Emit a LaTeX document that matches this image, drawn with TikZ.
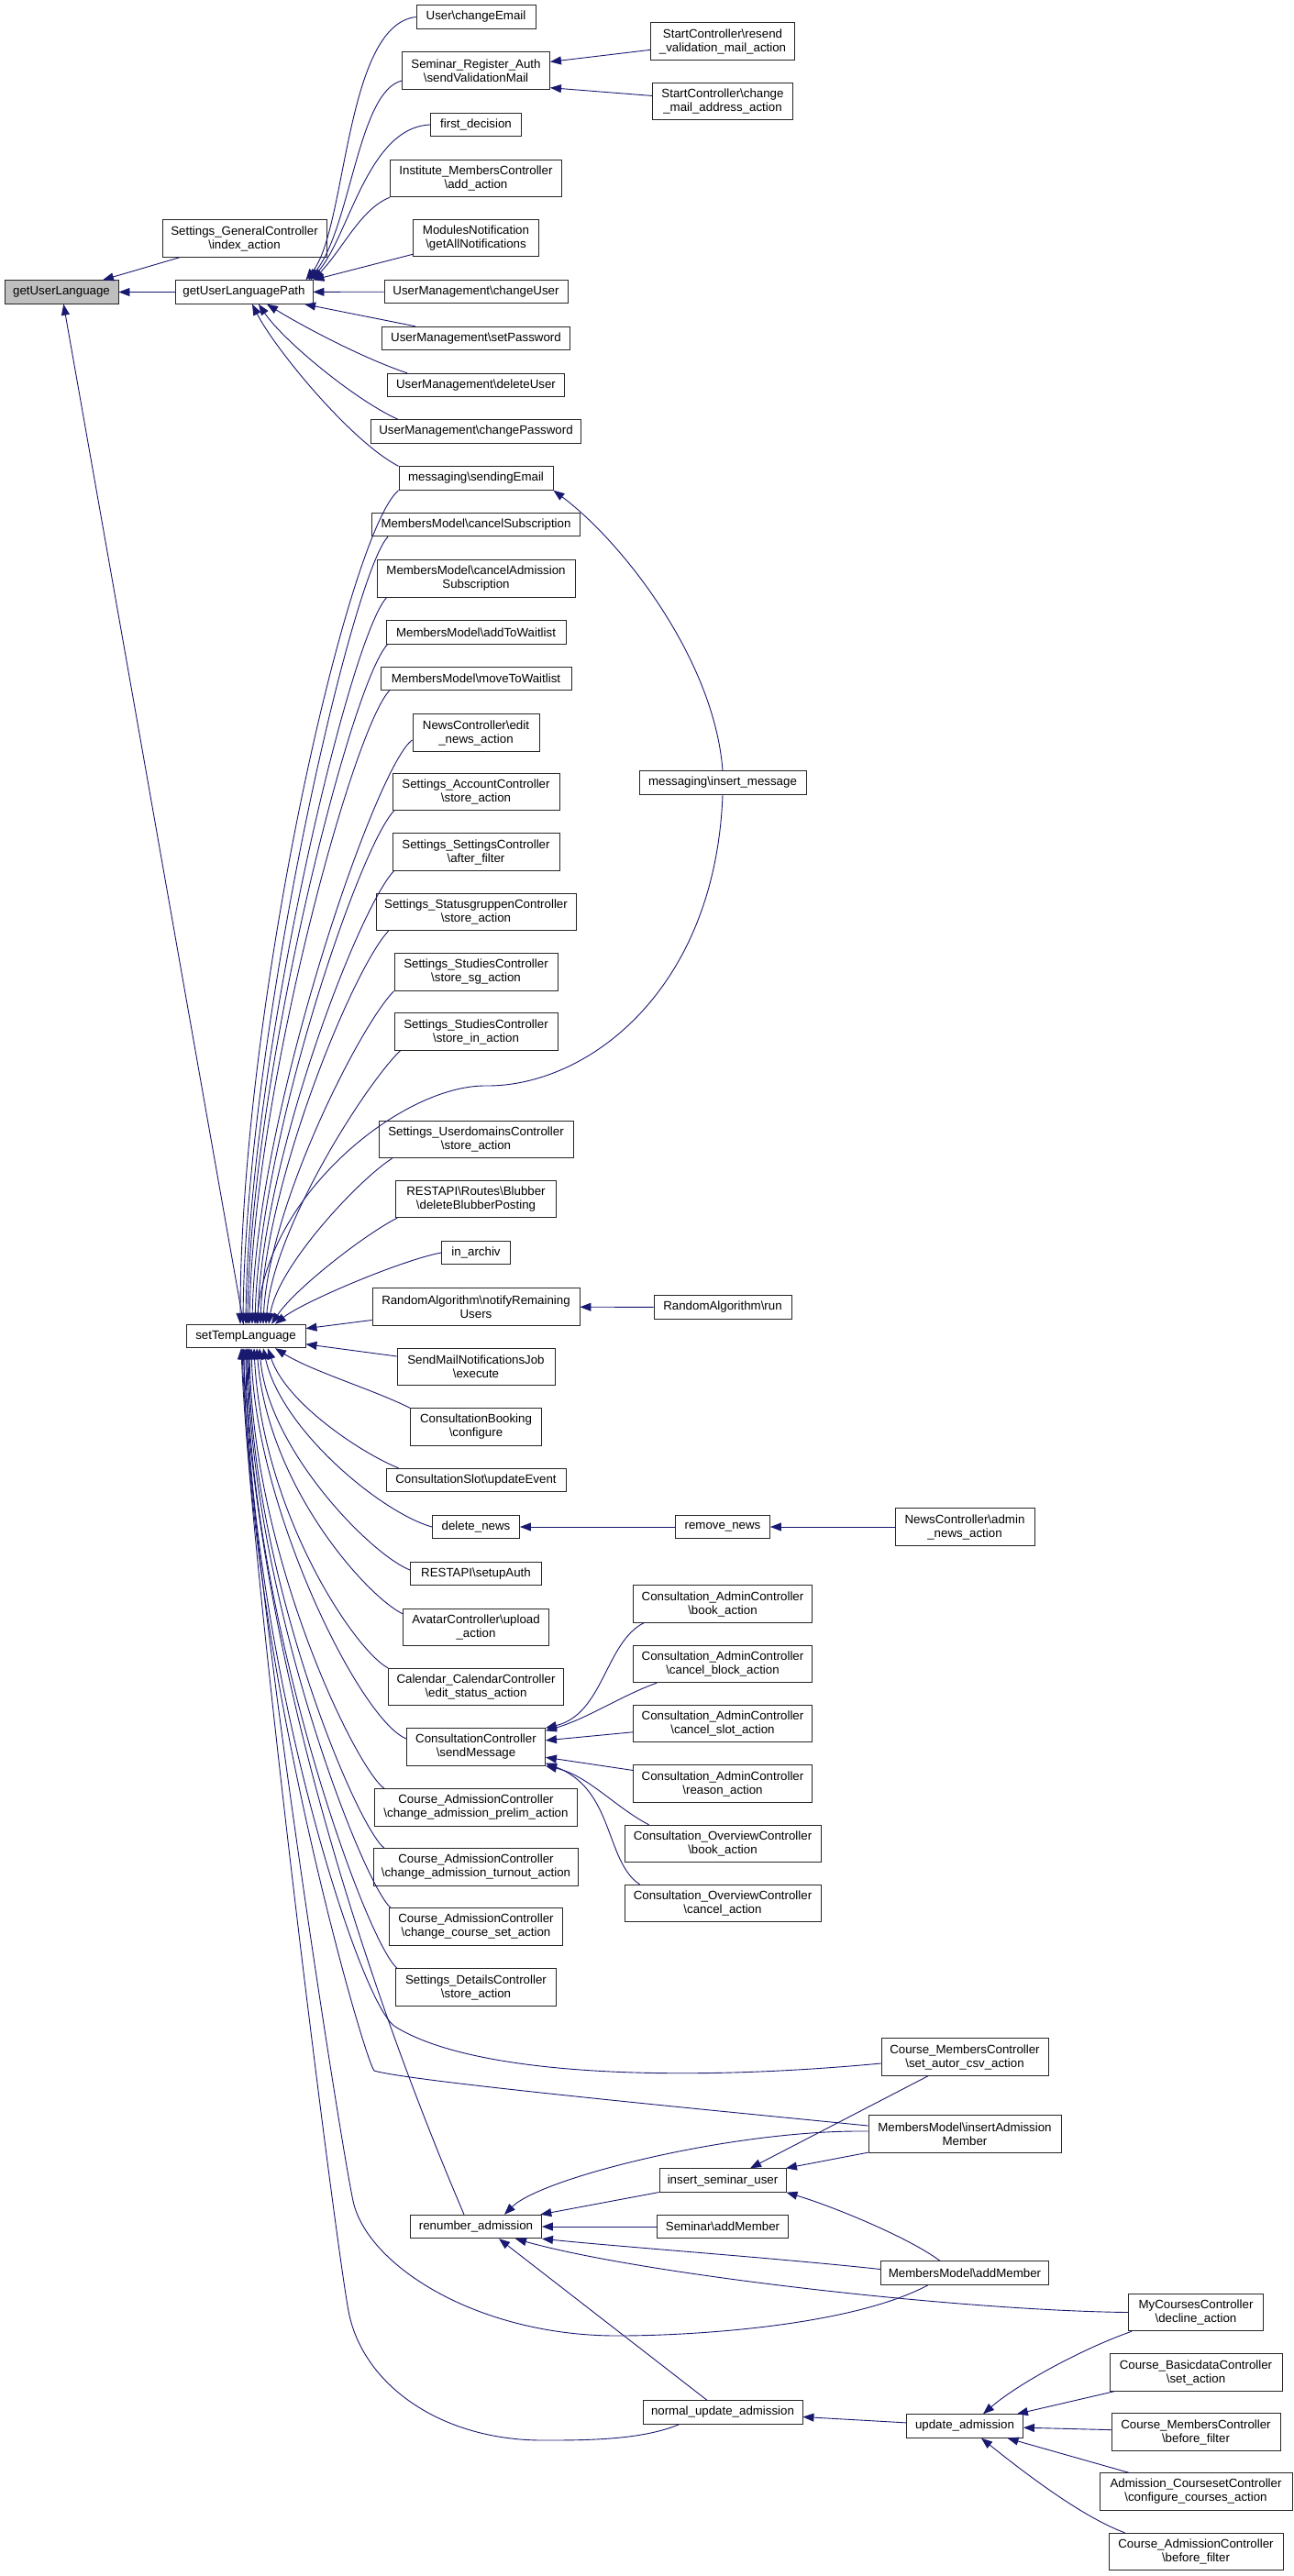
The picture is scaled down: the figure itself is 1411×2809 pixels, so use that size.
\documentclass[tikz,border=0pt]{standalone}
\usepackage{fontspec}
\setmainfont{Liberation Sans}
\usetikzlibrary{arrows.meta}
\definecolor{edgeblue}{HTML}{191970}
\definecolor{nodegray}{HTML}{BFBFBF}
\newcommand{\bsl}{\textbackslash}
\tikzset{
  func/.style={draw=black!85, line width=0.9pt, fill=white, inner xsep=6pt, inner ysep=1pt,
    minimum height=25.5pt, align=center, font=\fontsize{13.3}{15}\selectfont},
  twoline/.style={minimum height=40.5pt},
  boxw/.style={minimum width=#1pt},
  calls/.style={draw=edgeblue, line width=0.9pt, -{Triangle[length=12pt,width=9pt]}}
}
\begin{document}
\begin{tikzpicture}[x=1pt, y=-1pt]
    % --- Impostazioni ---
    \def\cola{67}   % colonna di getUserLanguage
    \def\colc{519}  % chiamanti diretti
    \def\cold{788}
    \def\cole{1052}
    \def\colf{1304}
    \useasboundingbox (0,0) rectangle (1411,2809);

    % --- Funzioni di base ---
    \node[func, boxw=124, fill=nodegray] (gul) at (\cola,318.5) {getUserLanguage};
    \node[func, twoline, boxw=179] (sgc) at (266.5,260) {Settings\_GeneralController\\\bsl index\_action};
    \node[func, boxw=150] (gulp) at (266,318.5) {getUserLanguagePath};
    \node[func, boxw=130] (stl) at (268,1457) {setTempLanguage};

    % --- Colonna dei chiamanti ---
    \node[func, boxw=130] (uce) at (\colc,18.5) {User\bsl changeEmail};
    \node[func, twoline, boxw=161] (sra) at (\colc,77) {Seminar\_Register\_Auth\\\bsl sendValidationMail};
    \node[func, boxw=99] (fd) at (\colc,136) {first\_decision};
    \node[func, twoline, boxw=187] (imc) at (\colc,194.5) {Institute\_MembersController\\\bsl add\_action};
    \node[func, twoline, boxw=137] (mn) at (\colc,259.5) {ModulesNotification\\\bsl getAllNotifications};
    \node[func, boxw=200] (umcu) at (\colc,318) {UserManagement\bsl changeUser};
    \node[func, boxw=205] (umsp) at (\colc,369) {UserManagement\bsl setPassword};
    \node[func, boxw=193] (umdu) at (\colc,420) {UserManagement\bsl deleteUser};
    \node[func, boxw=229] (umcp) at (\colc,470.5) {UserManagement\bsl changePassword};
    \node[func, boxw=168] (mse) at (\colc,521.5) {messaging\bsl sendingEmail};
    \node[func, boxw=227] (mmcs) at (\colc,572) {MembersModel\bsl cancelSubscription};
    \node[func, twoline, boxw=216] (mmcas) at (\colc,631) {MembersModel\bsl cancelAdmission\\Subscription};
    \node[func, boxw=196] (mmatw) at (\colc,689.5) {MembersModel\bsl addToWaitlist};
    \node[func, boxw=208] (mmmtw) at (\colc,740) {MembersModel\bsl moveToWaitlist};
    \node[func, twoline, boxw=138] (nce) at (\colc,799) {NewsController\bsl edit\\\_news\_action};
    \node[func, twoline, boxw=182] (sac) at (\colc,863.5) {Settings\_AccountController\\\bsl store\_action};
    \node[func, twoline, boxw=182] (ssc) at (\colc,929) {Settings\_SettingsController\\\bsl after\_filter};
    \node[func, twoline, boxw=218] (ssgc) at (\colc,994.5) {Settings\_StatusgruppenController\\\bsl store\_action};
    \node[func, twoline, boxw=178] (sstsg) at (\colc,1060) {Settings\_StudiesController\\\bsl store\_sg\_action};
    \node[func, twoline, boxw=178] (sstin) at (\colc,1125) {Settings\_StudiesController\\\bsl store\_in\_action};
    \node[func, twoline, boxw=212] (sudc) at (\colc,1242.5) {Settings\_UserdomainsController\\\bsl store\_action};
    \node[func, twoline, boxw=175] (rrb) at (\colc,1307.5) {RESTAPI\bsl Routes\bsl Blubber\\\bsl deleteBlubberPosting};
    \node[func, boxw=75] (ia) at (\colc,1366) {in\_archiv};
    \node[func, twoline, boxw=226] (ranr) at (\colc,1425) {RandomAlgorithm\bsl notifyRemaining\\Users};
    \node[func, twoline, boxw=172] (smnj) at (\colc,1490.5) {SendMailNotificationsJob\\\bsl execute};
    \node[func, twoline, boxw=143] (cbc) at (\colc,1556) {ConsultationBooking\\\bsl configure};
    \node[func, boxw=196] (csue) at (\colc,1614) {ConsultationSlot\bsl updateEvent};
    \node[func, boxw=95] (dn) at (\colc,1665) {delete\_news};
    \node[func, boxw=143] (rsa) at (\colc,1716) {RESTAPI\bsl setupAuth};
    \node[func, twoline, boxw=159] (acu) at (\colc,1774.5) {AvatarController\bsl upload\\\_action};
    \node[func, twoline, boxw=191] (ccc) at (\colc,1839.5) {Calendar\_CalendarController\\\bsl edit\_status\_action};
    \node[func, twoline, boxw=151] (ccsm) at (\colc,1905) {ConsultationController\\\bsl sendMessage};
    \node[func, twoline, boxw=221] (cacp) at (\colc,1971) {Course\_AdmissionController\\\bsl change\_admission\_prelim\_action};
    \node[func, twoline, boxw=223] (cact) at (\colc,2036) {Course\_AdmissionController\\\bsl change\_admission\_turnout\_action};
    \node[func, twoline, boxw=189] (cacs) at (\colc,2101) {Course\_AdmissionController\\\bsl change\_course\_set\_action};
    \node[func, twoline, boxw=175] (sdc) at (\colc,2167) {Settings\_DetailsController\\\bsl store\_action};
    \node[func, boxw=143] (ra) at (\colc,2428) {renumber\_admission};

    % --- Terza colonna ---
    \node[func, twoline, boxw=157] (scr) at (\cold,45) {StartController\bsl resend\\\_validation\_mail\_action};
    \node[func, twoline, boxw=153] (scc) at (\cold,110.5) {StartController\bsl change\\\_mail\_address\_action};
    \node[func, boxw=182] (mim) at (\cold,853.5) {messaging\bsl insert\_message};
    \node[func, boxw=150] (rar) at (\cold,1425.5) {RandomAlgorithm\bsl run};
    \node[func, boxw=103] (rn) at (\cold,1665) {remove\_news};
    \node[func, twoline, boxw=195] (cab) at (\cold,1749) {Consultation\_AdminController\\\bsl book\_action};
    \node[func, twoline, boxw=195] (cacb) at (\cold,1814.5) {Consultation\_AdminController\\\bsl cancel\_block\_action};
    \node[func, twoline, boxw=195] (cacsl) at (\cold,1879.5) {Consultation\_AdminController\\\bsl cancel\_slot\_action};
    \node[func, twoline, boxw=195] (car) at (\cold,1945) {Consultation\_AdminController\\\bsl reason\_action};
    \node[func, twoline, boxw=214] (cob) at (\cold,2010.5) {Consultation\_OverviewController\\\bsl book\_action};
    \node[func, twoline, boxw=214] (coc) at (\cold,2075.5) {Consultation\_OverviewController\\\bsl cancel\_action};
    \node[func, boxw=138] (isu) at (\cold,2377.5) {insert\_seminar\_user};
    \node[func, boxw=143] (sam) at (\cold,2428) {Seminar\bsl addMember};
    \node[func, boxw=174] (nua) at (\cold,2630.5) {normal\_update\_admission};

    % --- Quarta e quinta colonna ---
    \node[func, twoline, boxw=152] (nca) at (\cole,1665) {NewsController\bsl admin\\\_news\_action};
    \node[func, twoline, boxw=182] (cmc) at (\cole,2243) {Course\_MembersController\\\bsl set\_autor\_csv\_action};
    \node[func, twoline, boxw=210] (miam) at (\cole,2327) {MembersModel\bsl insertAdmission\\Member};
    \node[func, boxw=183] (mam) at (\cole,2478.5) {MembersModel\bsl addMember};
    \node[func, boxw=127] (ua) at (\cole,2645.5) {update\_admission};
    \node[func, twoline, boxw=147] (mcc) at (\colf,2521.5) {MyCoursesController\\\bsl decline\_action};
    \node[func, twoline, boxw=188] (cbd) at (\colf,2587) {Course\_BasicdataController\\\bsl set\_action};
    \node[func, twoline, boxw=184] (cmbf) at (\colf,2652) {Course\_MembersController\\\bsl before\_filter};
    \node[func, twoline, boxw=210] (acc) at (\colf,2717) {Admission\_CoursesetController\\\bsl configure\_courses\_action};
    \node[func, twoline, boxw=190] (cadbf) at (\colf,2782.5) {Course\_AdmissionController\\\bsl before\_filter};

    % punti di piega delle curve lunghe
    \coordinate (mimbend) at (530,1184);
    \coordinate (cmcbend) at (431,2210);
    \coordinate (miambend) at (408,2258);
    \coordinate (mambendA) at (673,2547);
    \coordinate (mambendB) at (385,2400);
    \coordinate (nuabendA) at (592,2661);
    \coordinate (nuabendB) at (380,2520);

    % --- Chiamate a getUserLanguage ---
    \draw[calls] (sgc) -- (gul);
    \draw[calls] (gulp) -- (gul);
    \draw[calls] (stl) -- (gul);

    % --- Chiamate a getUserLanguagePath ---
    \draw[calls] (uce.west) .. controls +(-78,9) and +(45,-56) .. ([xshift=-8pt]gulp.north east);
    \draw[calls] ([yshift=-11pt]sra.west) .. controls +(-48,12) and +(46,-56) .. ([xshift=-5pt]gulp.north east);
    \draw[calls] (fd.west) .. controls +(-69,3) and +(42,-46) .. ([xshift=-3pt]gulp.north east);
    \draw[calls] (imc.south west) .. controls +(-32,13) and +(34,-36) .. (gulp.north east);
    \draw[calls] (mn) -- (gulp.north east);
    \draw[calls] (umcu) -- (gulp);
    \draw[calls] (umsp) -- (gulp);
    \draw[calls] ([xshift=22pt]umdu.north west) .. controls +(-45,-15) and +(44,27) .. ([xshift=25pt]gulp.south);
    \draw[calls] ([xshift=30pt]umcp.north west) .. controls +(-45,-20) and +(28,41) .. ([xshift=16pt]gulp.south);
    \draw[calls] (mse.north west) .. controls +(-52,-27) and +(25,49) .. ([xshift=9pt]gulp.south);

    % --- sendValidationMail e sendingEmail ---
    \draw[calls] (scr) -- (sra);
    \draw[calls] (scc) -- (sra.347);
    \draw[calls] (mim.north) .. controls +(-9,-121) and +(75,56) .. (mse.south east);

    % --- Chiamate a setTempLanguage (dall'alto) ---
    \draw[calls] (mse.south west) .. controls +(-55,46) and +(0,-344) .. ([xshift=-6pt]stl.north);
    \draw[calls] ([xshift=18pt]mmcs.south west) .. controls +(-40,42) and +(3,-310) .. ([xshift=-3pt]stl.north);
    \draw[calls] ([xshift=11pt]mmcas.south west) .. controls +(-40,42) and +(3,-285) .. (stl.north);
    \draw[calls] ([xshift=2pt]mmatw.south west) .. controls +(-40,42) and +(3,-265) .. ([xshift=2pt]stl.north);
    \draw[calls] ([xshift=10pt]mmmtw.south west) .. controls +(-40,42) and +(4,-250) .. ([xshift=4pt]stl.north);
    \draw[calls] ([yshift=-8pt]nce.west) .. controls +(-38,25) and +(4,-230) .. ([xshift=7pt]stl.north);
    \draw[calls] ([xshift=2pt]sac.south west) .. controls +(-38,40) and +(5,-200) .. ([xshift=10pt]stl.north);
    \draw[calls] ([xshift=2pt]ssc.south west) .. controls +(-38,40) and +(5,-180) .. ([xshift=13pt]stl.north);
    \draw[calls] ([xshift=14pt]ssgc.south west) .. controls +(-38,40) and +(5,-155) .. ([xshift=16pt]stl.north);
    \draw[calls] (sstsg.south west) .. controls +(-36,36) and +(6,-130) .. ([xshift=19pt]stl.north);
    \draw[calls] ([xshift=7pt]sstin.south west) .. controls +(-36,34) and +(8,-105) .. ([xshift=22pt]stl.north);
    \draw[calls] (mim.south) .. controls +(-8,214) and +(110,1) .. (mimbend)
        .. controls +(-90,-1) and +(13,-144) .. ([xshift=12pt]stl.north);
    \draw[calls] ([xshift=15pt]sudc.south west) .. controls +(-35,22) and +(10,-64) .. ([xshift=25pt]stl.north);
    \draw[calls] ([xshift=2pt]rrb.south west) .. controls +(-34,17) and +(26,-39) .. ([xshift=28pt]stl.north);
    \draw[calls] (ia.west) .. controls +(-43,8) and +(30,-24) .. ([xshift=32pt]stl.north);
    \draw[calls] (ranr) -- (stl);
    \draw[calls] (smnj) -- (stl);

    % --- Chiamate a setTempLanguage (dal basso) ---
    \draw[calls] (cbc.north west) .. controls +(-40,-20) and +(40,25) .. ([xshift=32pt]stl.south);
    \draw[calls] ([xshift=14pt]csue.north west) .. controls +(-40,-16) and +(20,60) .. ([xshift=24pt]stl.south);
    \draw[calls] (dn.west) .. controls +(-54,-15) and +(20,90) .. ([xshift=19pt]stl.south);
    \draw[calls] ([yshift=4pt]rsa.west) .. controls +(-43,-17) and +(9,110) .. ([xshift=15pt]stl.south);
    \draw[calls] ([yshift=-6pt]acu.north west) .. controls +(-40,-20) and +(12,150) .. ([xshift=12pt]stl.south);
    \draw[calls] (ccc.north west) .. controls +(-36,-19) and +(9,180) .. ([xshift=9pt]stl.south);
    \draw[calls] ([yshift=9pt]ccsm.west) .. controls +(-50,-20) and +(5,176) .. ([xshift=6pt]stl.south);
    \draw[calls] ([xshift=11pt]cacp.north west) .. controls +(-30,-21) and +(4,230) .. ([xshift=4pt]stl.south);
    \draw[calls] ([xshift=12pt]cact.north west) .. controls +(-30,-23) and +(3,250) .. ([xshift=3pt]stl.south);
    \draw[calls] ([xshift=2pt]cacs.north west) .. controls +(-30,-25) and +(3,270) .. ([xshift=2pt]stl.south);
    \draw[calls] ([xshift=2pt]sdc.north west) .. controls +(-35,-30) and +(2,290) .. ([xshift=1pt]stl.south);
    \draw[calls] ([yshift=-7pt]cmc.west) .. controls +(-211,20) and +(89,55) .. (cmcbend)
        .. controls +(-40,-25) and +(2,330) .. (stl.south);
    \draw[calls] ([yshift=9pt]miam.west) .. controls +(-150,-15) and +(40,12) .. (miambend)
        .. controls +(-12,-15) and +(3,330) .. ([xshift=-2pt]stl.south);
    \draw[calls] ([xshift=-13pt]ra.north) .. controls +(-36,-85) and +(22,430) .. ([xshift=-3pt]stl.south);
    \draw[calls] ([xshift=-40pt]mam.south) .. controls +(-82,44) and +(87,0) .. (mambendA)
        .. controls +(-153,0) and +(15,70) .. (mambendB)
        .. controls +(-15,-70) and +(8,230) .. ([xshift=-4pt]stl.south);
    \draw[calls] ([xshift=40pt]nua.south west) .. controls +(-41,17) and +(48,0) .. (nuabendA)
        .. controls +(-112,0) and +(15,80) .. (nuabendB)
        .. controls +(-15,-80) and +(9,230) .. ([xshift=-5pt]stl.south);

    % --- sendMessage ---
    \draw[calls] ([xshift=12pt]cab.south west) .. controls +(-42,21) and +(63,-15) .. (ccsm.north east);
    \draw[calls] ([xshift=26pt]cacb.south west) .. controls +(-37,13) and +(45,-13) .. ([yshift=-3pt]ccsm.north east);
    \draw[calls] (cacsl) -- (ccsm);
    \draw[calls] (car) -- (ccsm);
    \draw[calls] ([xshift=27pt]cob.north west) .. controls +(-38,-20) and +(46,10) .. (ccsm.south east);
    \draw[calls] ([xshift=17pt]coc.north west) .. controls +(-38,-25) and +(75,28) .. ([yshift=3pt]ccsm.south east);

    % --- News e RandomAlgorithm ---
    \draw[calls] (rn) -- (dn);
    \draw[calls] (nca) -- (rn);
    \draw[calls] (rar) -- (ranr);

    % --- Ammissioni ---
    \draw[calls] (cmc) -- ([xshift=30pt]isu.north);
    \draw[calls] (miam) -- (isu);
    \draw[calls] ([xshift=-27pt]mam.north) .. controls +(-35,-26) and +(50,15) .. (isu.south east);
    \draw[calls] (isu) -- (ra);
    \draw[calls] ([yshift=3pt]miam.west) .. controls +(-147,-2) and +(40,-40) .. ([xshift=31pt]ra.north);
    \draw[calls] (sam) -- (ra);
    \draw[calls] ([yshift=4pt]mam.west) .. controls +(-110,-12) and +(87,9) .. (ra.south east);
    \draw[calls] (mcc.west) .. controls +(-183,-2) and +(138,39) .. ([xshift=43pt]ra.south);
    \draw[calls] (nua) -- ([xshift=25pt]ra.south);
    \draw[calls] (ua) -- (nua);
    \draw[calls] ([xshift=4pt]mcc.south west) .. controls +(-54,19) and +(38,-33) .. ([xshift=20pt]ua.north);
    \draw[calls] (cbd) -- (ua);
    \draw[calls] (cmbf) -- (ua);
    \draw[calls] (acc) -- (ua);
    \draw[calls] ([xshift=18pt]cadbf.north west) .. controls +(-49,-18) and +(40,32) .. ([xshift=18pt]ua.south);
\end{tikzpicture}
\end{document}
